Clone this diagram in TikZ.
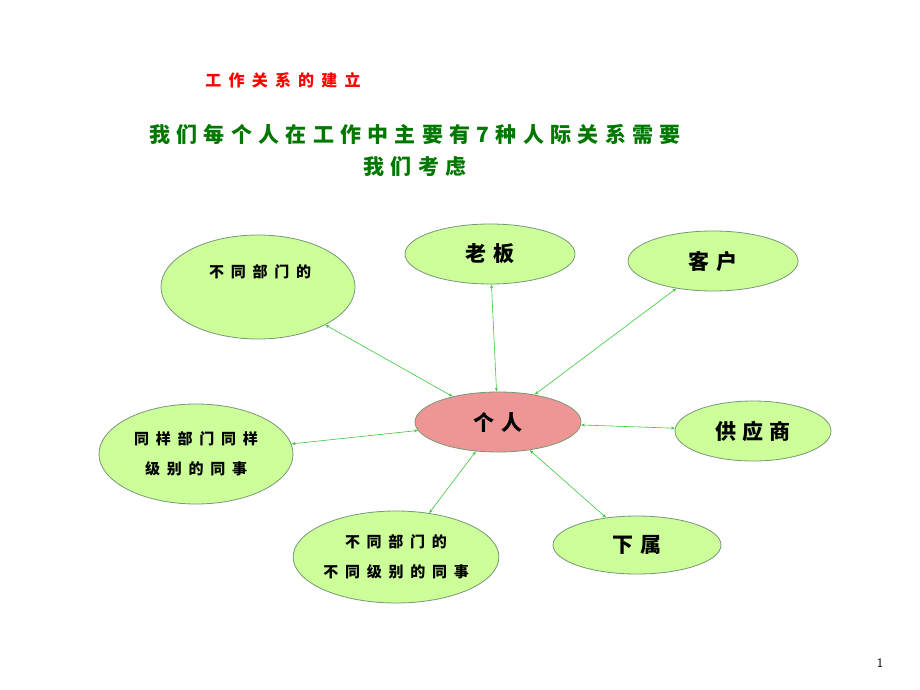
\documentclass[tikz,border=0pt]{standalone}
\usepackage{fontspec}
\newfontfamily\cjk{Noto Sans CJK SC}
\newfontfamily\cjkw[LetterSpace=30]{Noto Sans CJK SC}
\newfontfamily\cjkt[LetterSpace=45]{Noto Sans CJK SC}
\usetikzlibrary{shapes.geometric,arrows.meta}
\definecolor{eg}{RGB}{204,255,153}
\definecolor{eb}{RGB}{120,150,120}
\definecolor{pk}{RGB}{238,150,150}
\definecolor{tg}{RGB}{0,120,0}
\definecolor{ln}{RGB}{60,200,60}
\tikzset{
 ov/.style={ellipse,draw=eb,line width=0.8pt,fill=eg,inner sep=0pt,align=center},
 big/.style={font=\cjkw\bfseries\fontsize{21}{24}\selectfont},
 sm/.style={font=\cjkt\bfseries\fontsize{15}{30}\selectfont},
 lk/.style={ln,line width=0.6pt,{Stealth[length=4pt,width=3pt]}-{Stealth[length=4pt,width=3pt]}}
}
\begin{document}
\begin{tikzpicture}[x=1pt,y=-1pt]
\useasboundingbox (0,0) rectangle (920,690);
\node[font=\cjkt\bfseries\fontsize{16}{18}\selectfont,text=red] (t) at (283,80) {工作关系的建立};
\node[font=\cjkw\bfseries\fontsize{21}{32}\selectfont,text=tg,align=center] (s) at (415,150) {我们每个人在工作中主要有7种人际关系需要\\我们考虑};
\node[ov,minimum width=194,minimum height=104,sm] (a) at (258,287) {};
\node[sm] (al) at (260,272) {不同部门的};
\node[ov,minimum width=170,minimum height=60,big] (b) at (490,254) {老板};
\node[ov,minimum width=170,minimum height=60,big] (c) at (713,261) {客户};
\node[ov,fill=pk,minimum width=166,minimum height=60,big] (m) at (498,422) {个人};
\node[ov,minimum width=156,minimum height=60,big] (d) at (753,431) {供应商};
\node[ov,minimum width=194,minimum height=100,sm] (e) at (196,454) {同样部门同样\\级别的同事};
\node[ov,minimum width=168,minimum height=58,big] (f) at (637,545) {下属};
\node[ov,minimum width=192,minimum height=92,sm] (g) at (396,557) {不同部门的\\不同级别的同事};
\draw[lk] (m) -- (a);
\draw[lk] (m) -- (b);
\draw[lk] (m) -- (c);
\draw[lk] (m) -- (d);
\draw[lk] (m) -- (e);
\draw[lk] (m) -- (f);
\draw[lk] (m) -- (g);
\node[font=\sffamily\fontsize{13}{15}\selectfont] (n) at (880,663) {1};
\end{tikzpicture}
\end{document}
